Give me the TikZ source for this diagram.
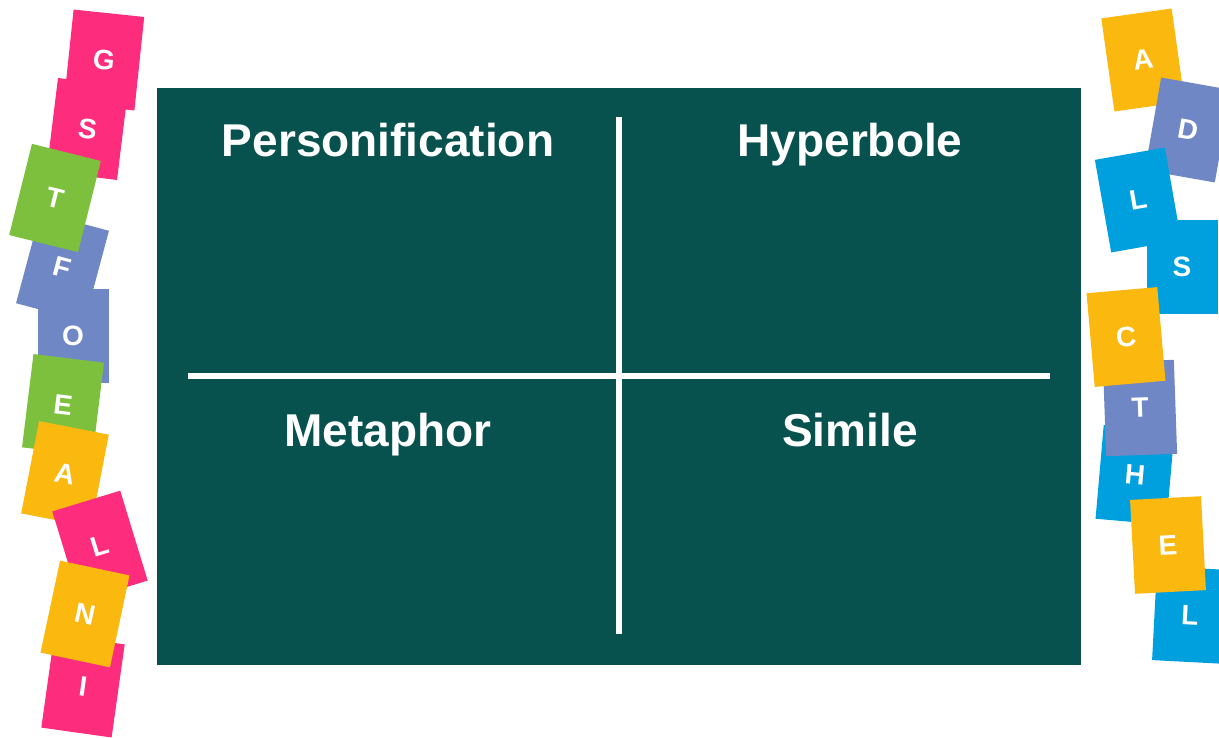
\documentclass[tikz,border=0pt]{standalone}
\usepackage{fontspec}
\setmainfont{Liberation Sans}
\definecolor{teal}{HTML}{07524F}
\definecolor{tpink}{HTML}{FE2C7C}
\definecolor{tgreen}{HTML}{7DC03E}
\definecolor{tgrey}{HTML}{6F87C5}
\definecolor{tyellow}{HTML}{FBB80F}
\definecolor{tblue}{HTML}{00A0DF}
\tikzset{
  tile/.style={fill=#1, draw=none, minimum width=71pt, minimum height=94pt, inner sep=0pt,
    text=white, font=\fontsize{28}{30}\selectfont\bfseries},
  title/.style={text=white, anchor=base, inner sep=0pt, font=\fontsize{46}{50}\selectfont\bfseries},
  divider/.style={draw=white, line width=6pt}
}
\begin{document}
\begin{tikzpicture}[x=1pt,y=-1pt]
\useasboundingbox (0,0) rectangle (1219,738);
% board
\fill[teal] (157,88) rectangle (1081,665);
\coordinate (vt) at (619,117);
\coordinate (vb) at (619,634);
\coordinate (hl) at (188,376);
\coordinate (hr) at (1050,376);
\draw[divider] (vt) -- (vb);
\draw[divider] (hl) -- (hr);
\node[title] (pers) at (388,157) {Personification};
\node[title] (hyp) at (850,157) {Hyperbole};
\node[title] (met) at (388,446) {Metaphor};
\node[title] (sim) at (850,446) {Simile};
% left tiles
\node[tile=tpink, rotate=-7] (ls) at (87.5,129) {S};
\node[tile=tpink, rotate=-6] (lg) at (104,60) {G};
\node[tile=tgrey, rotate=-15] (lf) at (62.5,267) {F};
\node[tile=tgreen, rotate=-14] (lt) at (55,198) {T};
\node[tile=tgrey] (lo) at (73,336) {O};
\node[tile=tgreen, rotate=-7] (le) at (63,405) {E};
\node[tile=tyellow, rotate=-11] (la) at (65,474) {A};
\node[tile=tpink, rotate=17] (ll) at (100,546) {L};
\node[tile=tpink, rotate=-8] (li) at (83,686) {I};
\node[tile=tyellow, rotate=-12] (ln) at (85,614) {N};
% right tiles
\node[tile=tyellow, rotate=8] (ra) at (1143,60) {A};
\node[tile=tgrey, rotate=-10] (rd) at (1188,130) {D};
\node[tile=tblue, rotate=10] (rl) at (1138,200) {L};
\node[tile=tblue] (rs) at (1182,267) {S};
\node[tile=tblue, rotate=-5] (rh) at (1135,475) {H};
\node[tile=tgrey, rotate=2] (rt) at (1140,408) {T};
\node[tile=tyellow, rotate=5] (rc) at (1126,337) {C};
\node[tile=tblue, rotate=-3] (rl2) at (1190,615) {L};
\node[tile=tyellow, rotate=3] (re) at (1168,545) {E};
\end{tikzpicture}
\end{document}
